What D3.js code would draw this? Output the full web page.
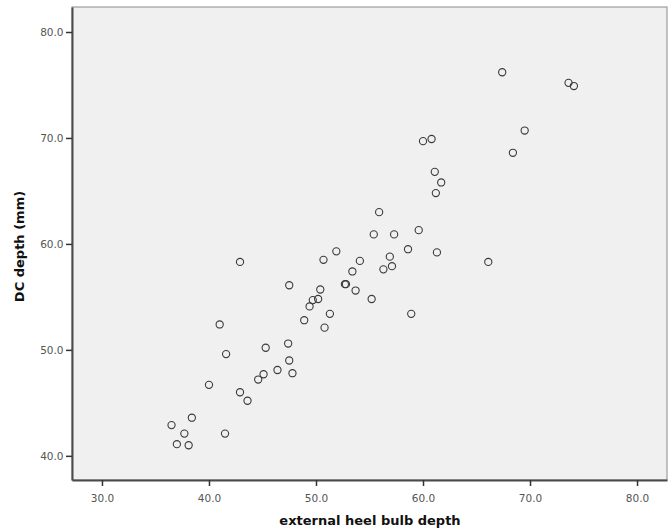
<!DOCTYPE html>
<html><head><meta charset="utf-8">
<script src="https://cdn.jsdelivr.net/npm/d3@7"></script>
<style>body{margin:0;background:#fff;}svg{display:block;}</style>
</head><body><svg id="c" width="669" height="531"></svg>
<script>
const heelBulb = [41.0,41.6,40.0,42.9,43.6,38.4,36.5,37.7,37.0,38.1,41.5,45.3,47.4,47.5,46.4,47.8,45.1,44.6,48.9,51.3,50.8,49.4,
  67.4,73.6,74.1,69.5,68.4,60.0,60.8,61.1,61.7,61.2,59.6,58.6,61.3,66.1,58.9,55.9,55.4,57.3,51.9,50.7,54.1,56.9,57.1,56.3,53.4,
  47.5,50.4,52.7,52.8,53.7,50.2,49.7,55.2,42.9];
const dcDepth = [52.4,49.6,46.7,46.0,45.2,43.6,42.9,42.1,41.1,41.0,42.1,50.2,50.6,49.0,48.1,47.8,47.7,47.2,52.8,53.4,52.1,54.1,
  76.2,75.2,74.9,70.7,68.6,69.7,69.9,66.8,65.8,64.8,61.3,59.5,59.2,58.3,53.4,63.0,60.9,60.9,59.3,58.5,58.4,58.8,57.9,57.6,57.4,
  56.1,55.7,56.2,56.2,55.6,54.8,54.7,54.8,58.3];
const xTicks = [30,40,50,60,70,80];
const yTicks = [40,50,60,70,80];
const xTitle = "external heel bulb depth";
const yTitle = "DC depth (mm)";

const svg = d3.select("#c");
const L=72, R=667, T=7, B=480;
const x = d3.scaleLinear().domain([27.2,82.8]).range([L,R]);
const y = d3.scaleLinear().domain([37.72,82.36]).range([B,T]);

svg.append("rect").attr("x",L).attr("y",T).attr("width",R-L).attr("height",B-T)
  .attr("fill","#f0f0f0").attr("stroke","#8a8a8a").attr("stroke-width",1);

const fmt = d3.format(".1f");
const xa = svg.append("g").attr("transform",`translate(0,${B})`)
  .call(d3.axisBottom(x).tickValues(xTicks).tickFormat(fmt).tickSize(6).tickSizeOuter(0));
const ya = svg.append("g").attr("transform",`translate(${L},0)`)
  .call(d3.axisLeft(y).tickValues(yTicks).tickFormat(fmt).tickSize(6).tickSizeOuter(0));
[xa,ya].forEach(g=>{
  g.select(".domain").attr("stroke","#4a4a4a").attr("stroke-width",2);
  g.selectAll(".tick line").attr("stroke","#333").attr("stroke-width",1.5);
  g.selectAll(".tick text").attr("fill","#555").attr("font-family","DejaVu Sans, sans-serif").attr("font-size",10.5);
});
xa.selectAll(".tick text").attr("dy","1.2em");
ya.selectAll(".tick text").attr("dx","0.05em");

svg.append("g").selectAll("circle").data(heelBulb.map((v,i)=>[v,dcDepth[i]])).join("circle")
  .attr("cx",d=>x(d[0])).attr("cy",d=>y(d[1])).attr("r",3.6)
  .attr("fill","none").attr("stroke","#3a3a3a").attr("stroke-width",1.1);

svg.append("text").attr("x",370).attr("y",525).attr("text-anchor","middle")
  .attr("font-family","DejaVu Sans, sans-serif").attr("font-weight","bold").attr("font-size",13).attr("fill","#111")
  .text(xTitle);
svg.append("text").attr("transform",`translate(24,${(T+B)/2+3}) rotate(-90)`).attr("text-anchor","middle")
  .attr("font-family","DejaVu Sans, sans-serif").attr("font-weight","bold").attr("font-size",13).attr("fill","#111")
  .text(yTitle);
</script></body></html>
